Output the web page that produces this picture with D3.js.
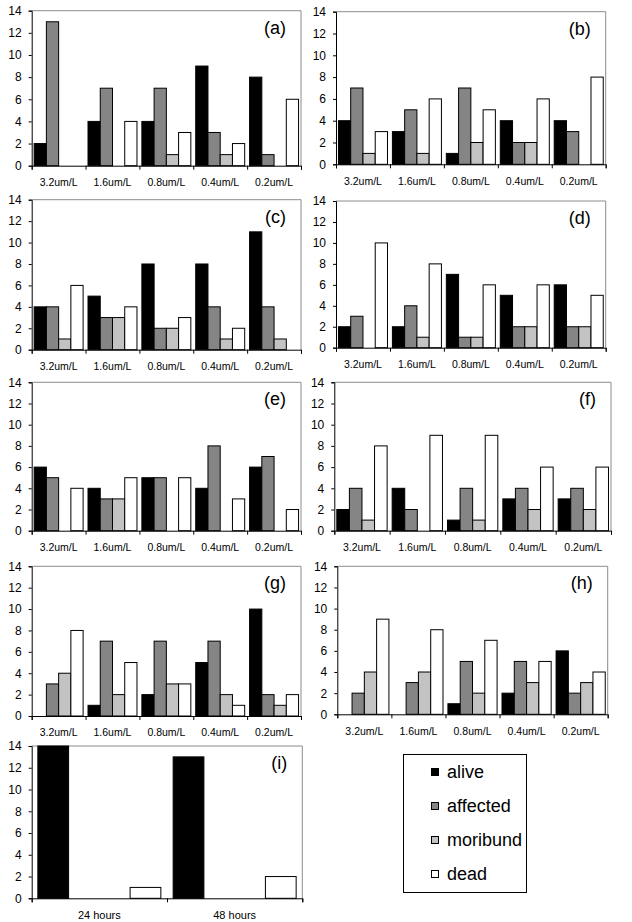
<!DOCTYPE html>
<html>
<head>
<meta charset="utf-8">
<script src="https://cdn.jsdelivr.net/npm/d3@7"></script>
<style>
  html, body { margin: 0; padding: 0; background: #fff; }
  svg { display: block; font-family: Arial, "Liberation Sans", sans-serif; }
</style>
</head>
<body>
<svg id="chart" width="632" height="922"></svg>
<script>
// ---------- DATA ----------
const concentrations = ["3.2um/L", "1.6um/L", "0.8um/L", "0.4um/L", "0.2um/L"];
const timePoints = ["24 hours", "48 hours"];
const seriesNames = ["alive", "affected", "moribund", "dead"];
const seriesColors = ["#000000", "#858585", "#c3c3c3", "#ffffff"];
const yTickValues = [0, 2, 4, 6, 8, 10, 12, 14];

// each row: [alive, affected, moribund, dead] per category
const panelA = [[2, 13, 0, 0], [4, 7, 0, 4], [4, 7, 1, 3], [9, 3, 1, 2], [8, 1, 0, 6]];
const panelB = [[4, 7, 1, 3], [3, 5, 1, 6], [1, 7, 2, 5], [4, 2, 2, 6], [4, 3, 0, 8]];
const panelC = [[4, 4, 1, 6], [5, 3, 3, 4], [8, 2, 2, 3], [8, 4, 1, 2], [11, 4, 1, 0]];
const panelD = [[2, 3, 0, 10], [2, 4, 1, 8], [7, 1, 1, 6], [5, 2, 2, 6], [6, 2, 2, 5]];
const panelE = [[6, 5, 0, 4], [4, 3, 3, 5], [5, 5, 0, 5], [4, 8, 0, 3], [6, 7, 0, 2]];
const panelF = [[2, 4, 1, 8], [4, 2, 0, 9], [1, 4, 1, 9], [3, 4, 2, 6], [3, 4, 2, 6]];
const panelG = [[0, 3, 4, 8], [1, 7, 2, 5], [2, 7, 3, 3], [5, 7, 2, 1], [10, 2, 1, 2]];
const panelH = [[0, 2, 4, 9], [0, 3, 4, 8], [1, 5, 2, 7], [2, 5, 3, 5], [6, 2, 3, 4]];
const panelI = [[14, 0, 0, 1], [13, 0, 0, 2]];

// ---------- LAYOUT ----------
const panels = [
  { label: "(a)", cats: concentrations, values: panelA, box: [31.7, 10.7, 301, 165.7] },
  { label: "(b)", cats: concentrations, values: panelB, box: [336, 11.7, 605.7, 164.3] },
  { label: "(c)", cats: concentrations, values: panelC, box: [31.7, 199.7, 301, 349.7] },
  { label: "(d)", cats: concentrations, values: panelD, box: [336, 201, 605.7, 347.7] },
  { label: "(e)", cats: concentrations, values: panelE, box: [31.7, 382.3, 301, 530.7] },
  { label: "(f)", cats: concentrations, values: panelF, box: [334.3, 382.3, 611, 530.7] },
  { label: "(g)", cats: concentrations, values: panelG, box: [31.7, 566.3, 301, 716] },
  { label: "(h)", cats: concentrations, values: panelH, box: [337.3, 566.3, 607.7, 714.3] },
  { label: "(i)", cats: timePoints, values: panelI, box: [31.7, 746, 302.3, 898.3], xFont: 11 }
];

const svg = d3.select("#chart");
svg.append("rect").attr("width", 632).attr("height", 922).attr("fill", "#fff");

panels.forEach(p => {
  const [left, top, right, bottom] = p.box;
  const g = svg.append("g");

  const x0 = d3.scaleBand().domain(p.cats).range([left, right]);
  const step = x0.step();
  const gap = step * 0.4 / 4.4;
  const x1 = d3.scaleBand().domain(seriesNames).range([gap / 2, step - gap / 2]);
  const y = d3.scaleLinear().domain([0, 14]).range([bottom, top]);

  // frame (top/right grey)
  g.append("path")
    .attr("d", `M${left},${top}H${right}V${bottom}`)
    .attr("fill", "none").attr("stroke", "#8c8c8c").attr("stroke-width", 1);

  // bars
  p.cats.forEach((c, ci) => {
    seriesNames.forEach((s, si) => {
      const v = p.values[ci][si];
      if (!v) return;
      g.append("rect")
        .attr("x", x0(c) + x1(s))
        .attr("y", y(v))
        .attr("width", x1.bandwidth())
        .attr("height", y(0) - y(v))
        .attr("fill", seriesColors[si])
        .attr("stroke", "#000")
        .attr("stroke-width", 1);
    });
  });

  // y axis
  const ya = g.append("g").attr("transform", `translate(${left},0)`)
    .call(d3.axisLeft(y).tickValues(yTickValues).tickSizeOuter(0).tickSize(3).tickPadding(7));
  ya.select(".domain").attr("stroke", "#000");
  ya.selectAll("text").attr("font-size", 12).attr("fill", "#000")
    .attr("font-family", "Arial, 'Liberation Sans', sans-serif");

  // x axis boundary ticks
  const bnd = d3.scaleLinear().domain([0, p.cats.length]).range([left, right]);
  const xb = g.append("g").attr("transform", `translate(0,${bottom})`)
    .call(d3.axisBottom(bnd).tickValues(d3.range(p.cats.length + 1)).tickFormat("").tickSizeOuter(0).tickSize(4));
  xb.select(".domain").attr("stroke", "#000");

  // x labels
  const xl = g.append("g").attr("transform", `translate(0,${bottom})`)
    .call(d3.axisBottom(x0).tickSize(0).tickPadding(13));
  xl.select(".domain").remove();
  xl.selectAll("text").attr("font-size", p.xFont || 10.5).attr("fill", "#000")
    .attr("font-family", "Arial, 'Liberation Sans', sans-serif");

  // panel label
  g.append("text")
    .attr("x", right - 15)
    .attr("y", top + 23)
    .attr("text-anchor", "end")
    .attr("font-size", 18)
    .attr("fill", "#000")
    .text(p.label);
});

// ---------- LEGEND ----------
const legend = svg.append("g");
legend.append("rect")
  .attr("x", 403.5).attr("y", 754.5).attr("width", 123).attr("height", 138)
  .attr("fill", "#fff").attr("stroke", "#000").attr("stroke-width", 1);
const ly = d3.scalePoint().domain(seriesNames).range([772, 874]);
seriesNames.forEach((s, i) => {
  legend.append("rect")
    .attr("x", 431.5).attr("y", ly(s) - 3.5).attr("width", 7).attr("height", 7)
    .attr("fill", seriesColors[i]).attr("stroke", "#000").attr("stroke-width", 1);
  legend.append("text")
    .attr("x", 447).attr("y", ly(s)).attr("dy", "0.35em")
    .attr("font-size", 18).attr("fill", "#000")
    .text(s);
});
</script>
</body>
</html>
